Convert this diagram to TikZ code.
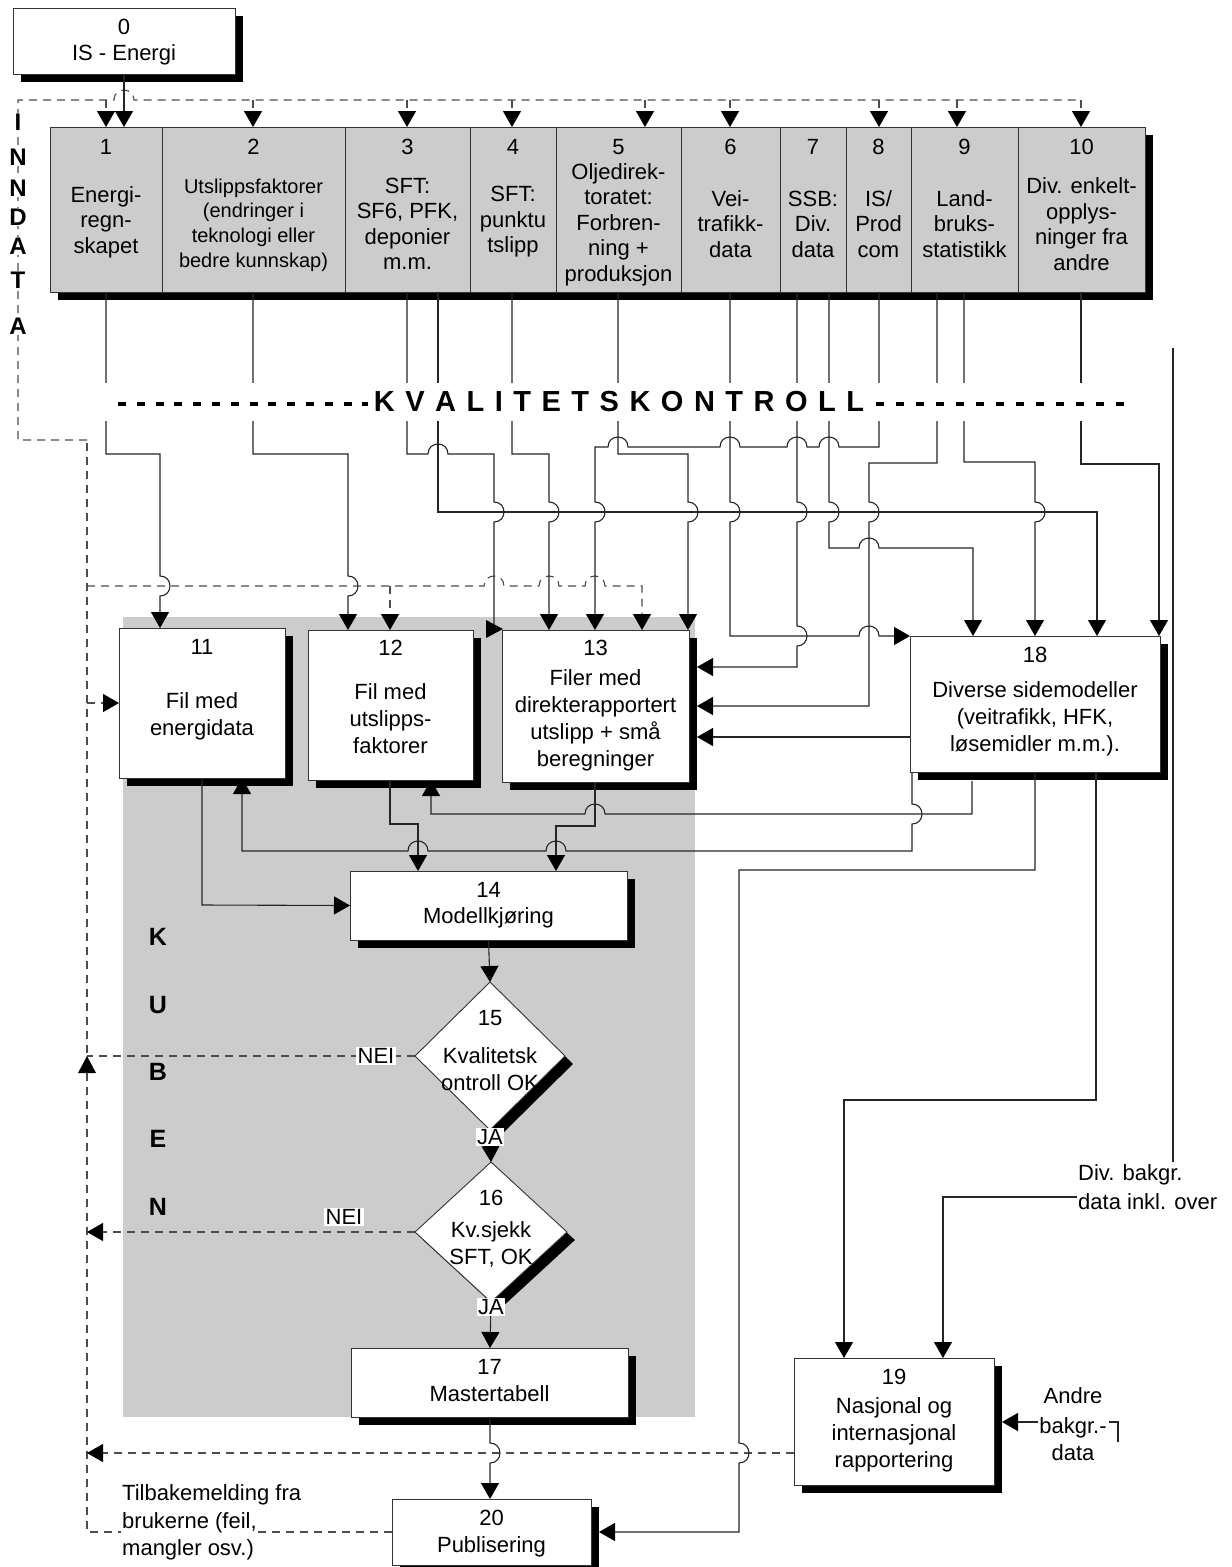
\documentclass[tikz,border=0pt]{standalone}
\usepackage{fontspec}
\setmainfont{Liberation Sans}
\usetikzlibrary{arrows.meta,shapes.geometric}
\newcommand\fA{\fontsize{22}{27}\selectfont}
\newcommand\fT{\fontsize{22}{25.5}\selectfont}
\newcommand\fTs{\fontsize{20}{24.7}\selectfont}
\newcommand\jHr[2]{-- ({#1-10},#2) .. controls ({#1-10},{#2-13.3}) and ({#1+10},{#2-13.3}) .. ({#1+10},#2)}
\newcommand\jHl[2]{-- ({#1+10},#2) .. controls ({#1+10},{#2-13.3}) and ({#1-10},{#2-13.3}) .. ({#1-10},#2)}
\newcommand\jVd[2]{-- (#1,{#2-10}) .. controls ({#1+13.3},{#2-10}) and ({#1+13.3},{#2+10}) .. (#1,{#2+10})}
\newcommand\ls{\kern10.5pt}
\begin{document}
\begin{tikzpicture}[x=1pt,y=-1pt,
  bx/.style={draw=black!80, line width=0.9pt, fill=white, inner sep=0pt, outer sep=0pt},
  tb/.style={draw=black!80, line width=0.9pt, fill=black!20, inner sep=0pt, outer sep=0pt},
  dm/.style={diamond, draw=black!80, line width=0.9pt, fill=white, inner sep=0pt, outer sep=0pt},
  ln/.style={draw=black!85, line width=1.1pt},
  dl/.style={draw=black!70, line width=1.1pt, dash pattern=on 8pt off 6pt},
  arr/.style={-{Triangle[length=16pt,width=18pt,color=black]}},
  txt/.style={inner sep=0pt, font=\fA, align=center},
  lab/.style={inner sep=1.5pt, fill=white, font=\fA},
  big/.style={inner sep=1pt, fill=white, font=\fontsize{24}{24}\selectfont\bfseries},
  kub/.style={inner sep=0pt, font=\fontsize{25}{25}\selectfont\bfseries}]
\useasboundingbox (0,0) rectangle (1232,1567);
\fill[white] (0,0) rectangle (1232,1567);

% shaded KUBEN region
\fill[black!20] (123,617) rectangle (695,1417);

% box 0
\fill[black] (21,16) rectangle (243,82);
\node[bx, minimum width=222pt, minimum height=66pt] (b0) at (124,41) {};
\node[txt] at (124,27) {0};
\node[txt] at (124,55) {IS - Energi};

% top boxes 1-10
\fill[black] (58,135) rectangle (1153,300);
\node[tb, minimum width=112pt, minimum height=165pt] (b1) at (106,209.5) {};
\node[tb, minimum width=183pt, minimum height=165pt] (b2) at (253.5,209.5) {};
\node[tb, minimum width=125pt, minimum height=165pt] (b3) at (407.5,209.5) {};
\node[tb, minimum width=86pt, minimum height=165pt] (b4) at (513,209.5) {};
\node[tb, minimum width=125pt, minimum height=165pt] (b5) at (618.5,209.5) {};
\node[tb, minimum width=99pt, minimum height=165pt] (b6) at (730.5,209.5) {};
\node[tb, minimum width=66pt, minimum height=165pt] (b7) at (813,209.5) {};
\node[tb, minimum width=65pt, minimum height=165pt] (b8) at (878.5,209.5) {};
\node[tb, minimum width=107pt, minimum height=165pt] (b9) at (964.5,209.5) {};
\node[tb, minimum width=127pt, minimum height=165pt] (b10) at (1081.5,209.5) {};
\foreach \x/\n in {106/1,253.5/2,407.5/3,513/4,618.5/5,730.5/6,813/7,878.5/8,964.5/9,1081.5/10}
  \node[txt,font=\fT] at (\x,147) {\n};
\node[txt,font=\fT] at (106,222) {Energi-\\regn-\\skapet};
\node[txt,font=\fTs] at (253.5,225) {Utslippsfaktorer\\(endringer i\\teknologi eller\\bedre kunnskap)};
\node[txt,font=\fT] at (407.5,224) {SFT:\\SF6, PFK,\\deponier\\m.m.};
\node[txt,font=\fT] at (513,222) {SFT:\\punktu\\tslipp};
\node[txt,font=\fT] at (618.5,224.5) {Oljedirek-\\toratet:\\Forbren-\\ning +\\produksjon};
\node[txt,font=\fT] at (730.5,224) {Vei-\\trafikk-\\data};
\node[txt,font=\fT] at (813,224) {SSB:\\Div.\\data};
\node[txt,font=\fT] at (878.5,224) {IS/\\Prod\\com};
\node[txt,font=\fT] at (964.5,224) {Land-\\bruks-\\statistikk};
\node[txt,font=\fT] at (1081.5,224) {Div. enkelt-\\opplys-\\ninger fra\\andre};

% boxes 11-13, 18
\fill[black] (127,636) rectangle (293,786);
\node[bx, minimum width=166pt, minimum height=150pt] (b11) at (202,703) {};
\node[txt] at (202,647) {11};
\node[txt] at (202,716.5) {Fil med\\energidata};
\fill[black] (316,638) rectangle (481,788);
\node[bx, minimum width=165pt, minimum height=150pt] (b12) at (390.5,705) {};
\node[txt] at (390.5,648) {12};
\node[txt] at (390.5,718.5) {Fil med\\utslipps-\\faktorer};
\fill[black] (510,638) rectangle (697,790);
\node[bx, minimum width=187pt, minimum height=152pt] (b13) at (595.5,706) {};
\node[txt] at (595.5,648) {13};
\node[txt] at (595.5,720) {Filer med\\direkterapportert\\utslipp + små\\beregninger};
\fill[black] (918,644) rectangle (1168,780);
\node[bx, minimum width=250pt, minimum height=136pt] (b18) at (1035,704) {};
\node[txt] at (1035,655) {18};
\node[txt] at (1035,719) {Diverse sidemodeller\\(veitrafikk, HFK,\\løsemidler m.m.).};

% box 14
\fill[black] (358,879) rectangle (635,948);
\node[bx, minimum width=277pt, minimum height=69pt] (b14) at (488.5,905.5) {};
\node[txt] at (488.5,890) {14};
\node[txt] at (488.5,918) {Modellkjøring};

% diamonds
\node[diamond, fill=black, inner sep=0pt, minimum width=150pt, minimum height=148pt] at (498,1064) {};
\node[dm, minimum width=150pt, minimum height=148pt] (d15) at (490,1056) {};
\node[txt] at (490,1018) {15};
\node[txt] at (490,1056) {Kvalitetsk};
\node[txt] at (490,1083) {ontroll OK};
\node[diamond, fill=black, inner sep=0pt, minimum width=152pt, minimum height=140pt] at (499,1240) {};
\node[dm, minimum width=152pt, minimum height=140pt] (d16) at (491,1232) {};
\node[txt] at (491,1198) {16};
\node[txt] at (491,1232) {Kv.sjekk};
\node[txt] at (491,1258) {SFT, OK};

% box 17
\fill[black] (359,1356) rectangle (636,1425);
\node[bx, minimum width=277pt, minimum height=69pt] (b17) at (489.5,1382.5) {};
\node[txt] at (489.5,1367) {17};
\node[txt] at (489.5,1394) {Mastertabell};

% box 19
\fill[black] (802,1366) rectangle (1002,1493);
\node[bx, minimum width=200pt, minimum height=127pt] (b19) at (894,1421.5) {};
\node[txt] at (894,1377) {19};
\node[txt] at (894,1435) {Nasjonal og\\internasjonal\\rapportering};

% box 20
\fill[black] (400,1507) rectangle (599,1573);
\node[bx, minimum width=199pt, minimum height=66pt] (b20) at (491.5,1532) {};
\node[txt] at (491.5,1518) {20};
\node[txt] at (491.5,1547) {Publisering};

% ---------- dashed feedback network ----------
\draw[dl] (87,440) -- (18,440) -- (18,100) \jHr{124}{100} -- (1081,100);
\foreach \x in {106,253,407,512,645,730,879,957,1081}
  \draw[dl,arr] (\x,100) -- (\x,127);
\draw[dl] (b20.west) -- (87,1532) -- (87,440);
\draw[dl,arr] (87,586) \jHr{494}{586} \jHr{549}{586} \jHr{595}{586} -- (642,586) -- (642,630);
\draw[dl,arr] (390,586) -- (390,630);
\draw[dl,arr] (87,703) -- (b11.west);
\draw[dl] (d15.west) -- (87,1056);
\fill[black] (87,1056) -- (78,1073) -- (96,1073) -- cycle;
\draw[dl,arr] (d16.west) -- (87,1232);
\draw[dl,arr] (794,1453) -- (87,1453);

% ---------- solid connectors ----------
\draw[ln,arr] (b0.south) -- (124,127);
\draw[ln,arr] (106,292) -- (106,454) -- (160,454) \jVd{160}{586} -- (160,628);
\draw[ln,arr] (253,292) -- (253,454) -- (348,454) \jVd{348}{586} -- (348,630);
\draw[ln] (407,292) -- (407,454) \jHr{438}{454} -- (494,454) \jVd{494}{512} -- (494,629);
\fill[black] (503,629) -- (486,620) -- (486,638) -- cycle;
\draw[ln,arr] (438,292) -- (438,512) -- (1097,512) -- (1097,636);
\draw[ln,arr] (512,292) -- (512,454) -- (549,454) \jVd{549}{512} -- (549,630);
\draw[ln,arr] (618,292) -- (618,454) -- (688,454) \jVd{688}{512} -- (688,630);
\draw[ln,arr] (879,292) -- (879,447) \jHl{829}{447} \jHl{797}{447} \jHl{730}{447} \jHl{618}{447} -- (595,447) \jVd{595}{512} -- (595,630);
\draw[ln,arr] (730,292) \jVd{730}{512} -- (730,636) \jHr{869}{636} -- (b18.north west);
\draw[ln,arr] (797,292) \jVd{797}{512} \jVd{797}{636} -- (797,667) -- (697,667);
\draw[ln,arr] (829,292) \jVd{829}{512} -- (829,548) \jHr{869}{548} -- (973,548) -- (973,636);
\draw[ln,arr] (937,292) -- (937,463) -- (869,463) \jVd{869}{512} -- (869,706) -- (697,706);
\draw[ln,arr] (964,292) -- (964,462) -- (1035,462) \jVd{1035}{512} -- (1035,636);
\draw[ln,arr] (1081,292) -- (1081,464) -- (1159,464) -- (1159,636);
\draw[ln,arr] (910,737) -- (697,737);
\draw[ln,arr] (912,772) \jVd{912}{814} -- (912,851) \jHl{556}{851} \jHl{418}{851} -- (242,851) -- (242,778);
\draw[ln,arr] (972,781) -- (972,814) \jHl{595}{814} -- (431,814) -- (431,780);
\draw[ln,arr] (202,778) -- (202,905) -- (b14.west);
\draw[ln,arr] (390,780) -- (390,824) -- (418,824) -- (418,871);
\draw[ln,arr] (595,782) -- (595,826) -- (556,826) -- (556,871);
\draw[ln,arr] (488.5,940) -- (d15.north);
\draw[ln,arr] (d15.south) -- (d16.north);
\draw[ln,arr] (d16.south) -- (490,1348);
\draw[ln,arr] (490,1417) \jVd{490}{1453} -- (490,1499);
\draw[ln,arr] (1035,772) -- (1035,870) -- (739,870) \jVd{739}{1453} -- (739,1532) -- (599,1532);
\draw[ln,arr] (1096,772) -- (1096,1100) -- (844,1100) -- (844,1358);
\draw[ln] (1173,348) -- (1173,1162);
\draw[ln,arr] (1077,1197) -- (943,1197) -- (943,1358);
\draw[ln,arr] (1038,1422) -- (1002,1422);
\draw[ln] (1109,1422) -- (1118,1422) -- (1118,1442);

% ---------- KVALITETSKONTROLL band ----------
\fill[white] (100,383) rectangle (1135,421);
\draw[line width=4.5pt, dash pattern=on 8pt off 10.8pt] (118,404) -- (368,404);
\draw[line width=4.5pt, dash pattern=on 8pt off 12pt] (876,404) -- (1125,404);
\node[inner sep=0pt, font=\fontsize{29}{30}\selectfont\bfseries] (kk) at (619,402)
  {K\ls V\ls A\ls L\ls I\ls T\ls E\ls T\ls S\ls K\ls O\ls N\ls T\ls R\ls O\ls L\ls L};

% ---------- labels ----------
\node[lab] at (376,1056) {NEI};
\node[lab] at (344,1217) {NEI};
\node[lab] at (490,1137) {JA};
\node[lab] at (491,1307) {JA};
\node[txt, anchor=west] at (122,1495) {Tilbakemelding fra};
\node[txt, anchor=west, fill=white, inner sep=1pt] at (121,1523) {brukerne (feil,};
\node[txt, anchor=west] at (122,1550) {mangler osv.)};
\node[txt, anchor=west] at (1078,1175) {Div. bakgr.};
\node[txt, anchor=west] at (1078,1202) {data inkl. over};
\node[txt] at (1073,1396) {Andre};
\node[txt] at (1073,1428) {bakgr.-};
\node[txt] at (1073,1453) {data};

% vertical words
\foreach \c/\y in {I/122,N/157,N/188,D/217,A/246,T/280,A/326}
  \node[big] at (18,\y) {\c};
\foreach \c/\y in {K/937,U/1005,B/1072,E/1139,N/1207}
  \node[kub] at (158,\y) {\c};
\end{tikzpicture}
\end{document}
